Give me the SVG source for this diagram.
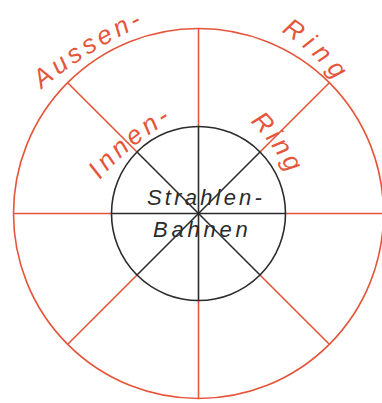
<svg xmlns="http://www.w3.org/2000/svg" width="382" height="403" viewBox="0 0 382 403">
<style>
.red{stroke:#e5553a;fill:none;stroke-width:1.6}
.blk{stroke:#2b2b2b;fill:none;stroke-width:1.6}
.rt{fill:#e5553a;font-family:"Liberation Sans",Arial,sans-serif;font-style:italic;font-size:26px}
.bt{fill:#2b2b2b;font-family:"Liberation Sans",Arial,sans-serif;font-style:italic;font-size:22px}
</style>
<defs>
<path id="pAussen" d="M 42 89 Q 84 52 152 21"/>
<path id="pRing1" d="M 281 32 Q 312 50 340 86"/>
<path id="pInnen" d="M 100 180 Q 126 148 172 120"/>
<path id="pRing2" d="M 250 122 Q 272 142 290 176"/>
</defs>
<rect width="382" height="403" fill="#ffffff"/>
<g id="outer-ring">
<circle class="red" cx="198.5" cy="213.5" r="185"/>
<line class="red" x1="198.5" y1="28.5" x2="198.5" y2="126.5"/>
<line class="red" x1="198.5" y1="300.5" x2="198.5" y2="398.5"/>
<line class="red" x1="13.5" y1="213.5" x2="111.5" y2="213.5"/>
<line class="red" x1="285.5" y1="213.5" x2="383.5" y2="213.5"/>
<line class="red" x1="67.7" y1="82.7" x2="137" y2="152"/>
<line class="red" x1="329.3" y1="82.7" x2="260" y2="152"/>
<line class="red" x1="67.7" y1="344.3" x2="137" y2="275"/>
<line class="red" x1="329.3" y1="344.3" x2="260" y2="275"/>
</g>
<g id="inner-circle">
<circle class="blk" cx="198.5" cy="213.5" r="87" stroke-width="2"/>
<line class="blk" x1="198.5" y1="126.5" x2="198.5" y2="300.5"/>
<line class="blk" x1="111.5" y1="213.5" x2="285.5" y2="213.5"/>
<line class="blk" x1="137" y1="152" x2="260" y2="275"/>
<line class="blk" x1="260" y1="152" x2="137" y2="275"/>
</g>
<g id="labels">
<text class="rt" font-size="27" letter-spacing="4"><textPath href="#pAussen">Aussen-</textPath></text>
<text class="rt" letter-spacing="6.5"><textPath href="#pRing1">Ring</textPath></text>
<text class="rt" font-size="24" letter-spacing="3.8"><textPath href="#pInnen">Innen-</textPath></text>
<text class="rt" font-size="24" letter-spacing="3.5"><textPath href="#pRing2">Ring</textPath></text>
<text class="bt" x="147" y="205" letter-spacing="3.2">Strahlen-</text>
<text class="bt" x="153" y="237" letter-spacing="3.8">Bahnen</text>
</g>
</svg>
